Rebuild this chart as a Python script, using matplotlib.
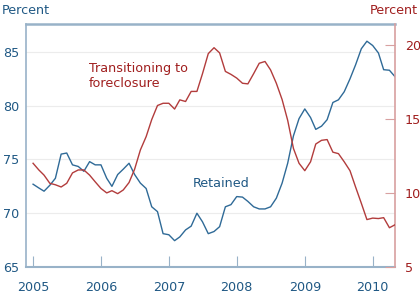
import numpy as np
import pandas as pd
import matplotlib
matplotlib.use("Agg")
import matplotlib.pyplot as plt

# ----------------------------
# Data (monthly, Jan 2005 - May 2010)
# ----------------------------
months = pd.date_range("2005-01-01", periods=65, freq="MS")

retained = [
    72.7, 72.35, 72.05, 72.6, 73.25, 75.5, 75.6, 74.5, 74.35, 73.9,
    74.8, 74.5, 74.5, 73.25, 72.5, 73.6, 74.1, 74.65, 73.6, 72.8,
    72.3, 70.6, 70.15, 68.1, 68.0, 67.45, 67.8, 68.45, 68.8, 70.0,
    69.2, 68.1, 68.3, 68.75, 70.6, 70.8, 71.55, 71.5, 71.1, 70.6,
    70.4, 70.4, 70.6, 71.4, 72.8, 74.65, 77.2, 78.8, 79.7, 78.9,
    77.8, 78.1, 78.7, 80.3, 80.55, 81.3, 82.5, 83.8, 85.3, 86.0,
    85.6, 84.9, 83.35, 83.3, 82.7,
]

foreclosure = [
    12.0, 11.55, 11.2, 10.65, 10.55, 10.4, 10.65, 11.35, 11.55, 11.55,
    11.2, 10.75, 10.3, 10.0, 10.15, 9.95, 10.2, 10.7, 11.6, 12.9,
    13.8, 14.95, 15.9, 16.05, 16.05, 15.66, 16.28, 16.17, 16.85, 16.85,
    18.05, 19.4, 19.8, 19.45, 18.2, 18.0, 17.75, 17.4, 17.36, 18.05,
    18.75, 18.87, 18.3, 17.4, 16.3, 14.9, 13.0, 12.0, 11.5, 12.1,
    13.3, 13.55, 13.6, 12.75, 12.65, 12.1, 11.5, 10.4, 9.3, 8.2,
    8.3, 8.27, 8.33, 7.65, 7.85,
]

year_ticks = pd.to_datetime(["2005-01-01", "2006-01-01", "2007-01-01",
                             "2008-01-01", "2009-01-01", "2010-01-01"])
year_labels = ["2005", "2006", "2007", "2008", "2009", "2010"]
left_ticks = [65, 70, 75, 80, 85]
right_ticks = [5, 10, 15, 20]

# ----------------------------
# Colours
# ----------------------------
blue_line = "#2f6a97"
blue_text = "#1f5884"
red_line = "#b23c3c"
red_text = "#a01e1e"
frame_blue = "#98b2c8"
frame_red = "#d8a0a0"
grid_col = "#ececec"
fs = 9.2

# ----------------------------
# Plot
# ----------------------------
fig = plt.figure(figsize=(4.2, 2.99), dpi=100)
ax = fig.add_axes([26 / 420, 1 - 267 / 299, 369 / 420, 243 / 299])
ax2 = ax.twinx()

ax.plot(months, retained, color=blue_line, lw=1.0, zorder=3)
ax2.plot(months, foreclosure, color=red_line, lw=1.0, zorder=3)

ax.set_xlim(pd.Timestamp("2004-11-24"), months[-1])
ax.set_ylim(65, 87.6)
ax2.set_ylim(5, 21.4)

for y in left_ticks[1:]:
    ax.axhline(y, color=grid_col, lw=0.8, zorder=0)

ax.set_yticks(left_ticks)
ax.set_yticklabels([str(v) for v in left_ticks], color=blue_text, fontsize=fs)
ax.tick_params(axis="y", length=0, pad=5)

ax.set_xticks(year_ticks)
ax.set_xticklabels(year_labels, color=blue_text, fontsize=fs)
ax.tick_params(axis="x", direction="in", length=8, width=0.8,
               color=frame_blue, pad=10)

ax2.set_yticks(right_ticks)
ax2.set_yticklabels([str(v) for v in right_ticks], color=red_text, fontsize=fs)
ax2.tick_params(axis="y", direction="in", length=7, width=0.8,
                color=frame_red, pad=7)

for s in ["left", "top", "bottom"]:
    ax.spines[s].set_color(frame_blue)
    ax2.spines[s].set_visible(False)
ax.spines["top"].set_linewidth(1.8)
ax.spines["bottom"].set_linewidth(1.5)
ax.spines["left"].set_linewidth(1.2)
ax.spines["right"].set_visible(False)
ax2.spines["right"].set_color(frame_red)
ax2.spines["right"].set_linewidth(1.2)

fig.text(2 / 420, 1 - 11 / 299, "Percent", color=blue_text, fontsize=fs,
         ha="left", va="center")
fig.text(418 / 420, 1 - 11 / 299, "Percent", color=red_text, fontsize=fs,
         ha="right", va="center")

ax.text(pd.Timestamp("2005-10-28"), 82.8, "Transitioning to\nforeclosure",
        color=red_text, fontsize=fs, ha="left", va="center",
        linespacing=1.2)
ax.text(pd.Timestamp("2007-05-10"), 72.8, "Retained",
        color=blue_text, fontsize=fs, ha="left", va="center")

fig.savefig("out.png", dpi=100)
